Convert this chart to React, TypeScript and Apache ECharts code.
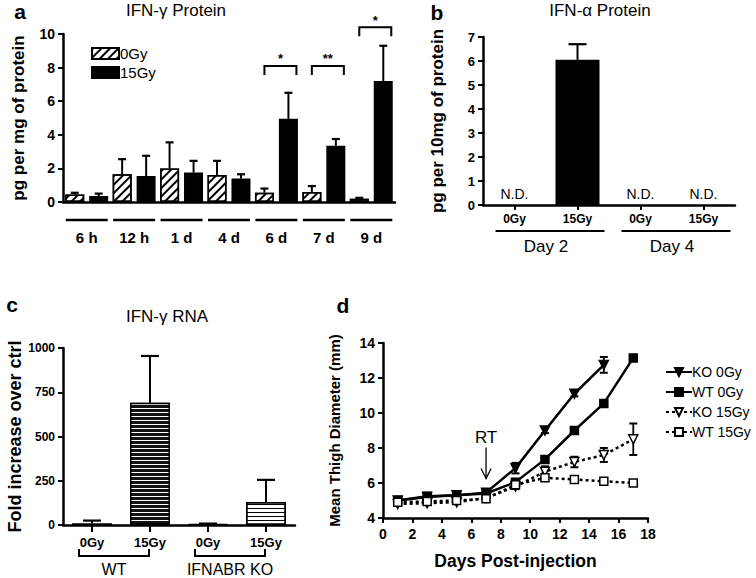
import React, { useEffect, useRef } from 'react';
import * as echarts from 'echarts';

// ---------- Panel a: IFN-γ protein ----------
const catsA = ['6 h', '12 h', '1 d', '4 d', '6 d', '7 d', '9 d'];
const a0Gy = [0.45, 1.65, 2.0, 1.6, 0.55, 0.6, 0.2];
const a0GyErrTop = [0.55, 2.55, 3.55, 2.45, 0.8, 0.95, 0.25];
const a15Gy = [0.35, 1.55, 1.75, 1.4, 4.95, 3.35, 7.2];
const a15GyErrTop = [0.5, 2.75, 2.45, 1.65, 6.5, 3.75, 9.3];
const aSigCats = [4, 5, 6];
const aSigLevels = [8.1, 8.1, 10.4];
const aSigMarks = ['*', '**', '*'];
const aLegend = ['0Gy', '15Gy'];

// ---------- Panel b: IFN-α protein ----------
const catsB = ['0Gy', '15Gy', '0Gy', '15Gy'];
const bValues: (number | string)[] = ['-', 6.05, '-', '-'];
const bErrTop: (number | string)[] = ['-', 6.7, '-', '-'];
const bNotDetected = [0, 2, 3];
const bGroupNames = ['Day 2', 'Day 4'];
const bGroupSpans = [[0, 1], [2, 3]];

// ---------- Panel c: IFN-γ RNA ----------
const catsC = ['0Gy', '15Gy', '0Gy', '15Gy'];
const cValues = [10, 690, 5, 130];
const cErrTop = [25, 955, 8, 255];
const cGroupNames = ['WT', 'IFNABR KO'];
const cGroupSpans = [[0, 1], [2, 3]];

// ---------- Panel d: thigh diameter ----------
const dDays = [1, 3, 5, 7, 9, 11, 13, 15, 17];
const dKO0 = [5.0, 5.2, 5.3, 5.45, 6.85, 9.0, 11.1, 12.75];
const dKO0Err = [0.1, 0.1, 0.1, 0.1, 0.3, 0.15, 0.15, 0.45];
const dWT0 = [5.0, 5.25, 5.3, 5.4, 6.05, 7.35, 9.0, 10.55, 13.15];
const dWT0Err = [0.1, 0.1, 0.1, 0.1, 0.15, 0.15, 0.1, 0.1, 0.15];
const dKO15 = [4.8, 4.85, 4.9, 5.15, 5.8, 6.65, 7.2, 7.6, 8.5];
const dKO15Err = [0.1, 0.1, 0.1, 0.1, 0.15, 0.3, 0.3, 0.4, 0.9];
const dWT15 = [4.9, 4.95, 5.0, 5.1, 5.9, 6.3, 6.2, 6.1, 6.0];
const dWT15Err = [0.1, 0.1, 0.1, 0.1, 0.1, 0.1, 0.1, 0.1, 0.1];
const dNames = ['KO 0Gy', 'WT 0Gy', 'KO 15Gy', 'WT 15Gy'];
const dRtDay = 7;
const dRtLevel = 5.4;
const dRtLabel = 'RT';

const FONT = '"Liberation Sans", Arial, Helvetica, sans-serif';
const BLACK = '#000';

const txt = (text: string, x: number, y: number, size: number, weight = 'normal', align = 'center') => ({
  type: 'text',
  x,
  y,
  silent: true,
  style: {
    text,
    fill: BLACK,
    fontSize: size,
    fontWeight: weight,
    fontFamily: FONT,
    align,
    verticalAlign: 'middle',
    textAlign: align,
    textVerticalAlign: 'middle',
  },
});

const lineEl = (x1: number, y1: number, x2: number, y2: number, w = 2) => ({
  type: 'line',
  shape: { x1, y1, x2, y2 },
  style: { stroke: BLACK, lineWidth: w },
});

const errRender = (offset: number, capHalf: number) => (params: any, api: any) => {
  const x = api.value(0);
  const p0 = api.coord([x, api.value(1)]);
  const p1 = api.coord([x, api.value(2)]);
  const cx = p0[0] + offset;
  return {
    type: 'group',
    children: [lineEl(cx, p0[1], cx, p1[1], 2), lineEl(cx - capHalf, p1[1], cx + capHalf, p1[1], 2.2)],
  };
};

const errRangeRender = (capHalf: number) => (params: any, api: any) => {
  const x = api.value(0);
  const lo = api.coord([x, api.value(1)]);
  const hi = api.coord([x, api.value(2)]);
  return {
    type: 'group',
    children: [
      lineEl(lo[0], lo[1], hi[0], hi[1], 1.8),
      lineEl(lo[0] - capHalf, lo[1], lo[0] + capHalf, lo[1], 2),
      lineEl(hi[0] - capHalf, hi[1], hi[0] + capHalf, hi[1], 2),
    ],
  };
};

const valueAxisCommon = {
  axisLine: { show: true, lineStyle: { color: BLACK, width: 2.5 } },
  axisTick: { show: true, inside: false, length: 5, lineStyle: { color: BLACK, width: 2 } },
  splitLine: { show: false },
};

const tickLabel = (size: number, margin: number) => ({
  color: BLACK,
  fontWeight: 'bold',
  fontSize: size,
  fontFamily: FONT,
  margin,
});

const axisName = (size: number) => ({ color: BLACK, fontWeight: 'bold', fontSize: size, fontFamily: FONT });

function buildOption(): any {
  const hatch = {
    symbol: 'rect',
    symbolSize: 1,
    dashArrayX: [[10, 0]],
    dashArrayY: [2, 4],
    rotation: -Math.PI / 4,
    color: BLACK,
    backgroundColor: '#fff',
  };
  const darkStripes = {
    symbol: 'rect',
    symbolSize: 1,
    dashArrayX: [[10, 0]],
    dashArrayY: [1, 3],
    rotation: 0,
    color: '#fff',
    backgroundColor: '#111',
  };
  const lightStripes = {
    symbol: 'rect',
    symbolSize: 1,
    dashArrayX: [[10, 0]],
    dashArrayY: [1, 3],
    rotation: 0,
    color: BLACK,
    backgroundColor: '#fff',
  };

  const dSeriesData = [dKO0, dWT0, dKO15, dWT15];
  const dErrData = [dKO0Err, dWT0Err, dKO15Err, dWT15Err];
  const dSymbols = ['triangle', 'rect', 'triangle', 'rect'];
  const dRot = [180, 0, 180, 0];
  const dFill = [BLACK, BLACK, '#fff', '#fff'];
  const dDotted = [false, false, true, true];

  const errRows: number[][] = [];
  dSeriesData.forEach((arr, s) => {
    arr.forEach((v, i) => errRows.push([dDays[i], v - dErrData[s][i], v + dErrData[s][i]]));
  });

  return {
    animation: false,
    backgroundColor: '#fff',
    textStyle: { fontFamily: FONT },
    grid: [
      { left: 63, top: 34, width: 332, height: 168 },
      { left: 483, top: 37, width: 252, height: 168 },
      { left: 63, top: 348, width: 232, height: 177 },
      { left: 383, top: 343, width: 265, height: 175 },
    ],
    legend: [
      {
        data: aLegend,
        orient: 'vertical',
        left: 86,
        top: 41,
        itemWidth: 27,
        itemHeight: 11,
        itemGap: 4,
        icon: 'rect',
        selectedMode: false,
        textStyle: { color: BLACK, fontSize: 15, fontFamily: FONT, padding: [0, 0, 0, -4] },
      },
      {
        data: dNames,
        orient: 'vertical',
        left: 660,
        top: 360,
        itemWidth: 26,
        itemHeight: 10,
        itemGap: 6,
        selectedMode: false,
        textStyle: { color: BLACK, fontSize: 14, fontFamily: FONT, padding: [0, 0, 0, -5] },
      },
    ],
    xAxis: [
      {
        type: 'category',
        gridIndex: 0,
        data: catsA,
        axisLine: { show: true, lineStyle: { color: BLACK, width: 2.5 } },
        axisTick: { show: false },
        axisLabel: tickLabel(15, 28),
      },
      {
        type: 'category',
        gridIndex: 1,
        data: catsB,
        axisLine: { show: true, lineStyle: { color: BLACK, width: 2.5 } },
        axisTick: { show: true, alignWithLabel: true, length: 5, lineStyle: { color: BLACK, width: 2 } },
        axisLabel: tickLabel(12, 8),
      },
      {
        type: 'category',
        gridIndex: 2,
        data: catsC,
        axisLine: { show: true, lineStyle: { color: BLACK, width: 2.5 } },
        axisTick: { show: true, alignWithLabel: true, length: 7, lineStyle: { color: BLACK, width: 2 } },
        axisLabel: tickLabel(13, 11),
      },
      {
        type: 'value',
        gridIndex: 3,
        min: 0,
        max: 18,
        interval: 2,
        ...valueAxisCommon,
        axisLabel: tickLabel(14, 9),
        name: 'Days Post-injection',
        nameLocation: 'middle',
        nameGap: 34,
        nameTextStyle: axisName(17.5),
      },
    ],
    yAxis: [
      {
        type: 'value',
        gridIndex: 0,
        min: 0,
        max: 10,
        interval: 2,
        ...valueAxisCommon,
        axisLabel: tickLabel(14, 8),
        name: 'pg per mg of protein',
        nameLocation: 'middle',
        nameRotate: 90,
        nameGap: 36,
        nameTextStyle: axisName(17),
      },
      {
        type: 'value',
        gridIndex: 1,
        min: 0,
        max: 7,
        interval: 1,
        ...valueAxisCommon,
        axisLabel: tickLabel(13, 8),
        name: 'pg per 10mg of protein',
        nameLocation: 'middle',
        nameRotate: 90,
        nameGap: 37,
        nameTextStyle: axisName(17),
      },
      {
        type: 'value',
        gridIndex: 2,
        min: 0,
        max: 1000,
        interval: 250,
        ...valueAxisCommon,
        axisLabel: { ...tickLabel(12, 8), formatter: (v: number) => String(v) },
        name: 'Fold increase over ctrl',
        nameLocation: 'middle',
        nameRotate: 90,
        nameGap: 39,
        nameTextStyle: axisName(18),
      },
      {
        type: 'value',
        gridIndex: 3,
        min: 4,
        max: 14,
        interval: 2,
        ...valueAxisCommon,
        axisLabel: tickLabel(14, 8),
        name: 'Mean Thigh Diameter (mm)',
        nameLocation: 'middle',
        nameRotate: 90,
        nameGap: 41,
        nameTextStyle: axisName(15),
      },
    ],
    series: [
      // ---- panel a bars
      {
        name: aLegend[0],
        type: 'bar',
        xAxisIndex: 0,
        yAxisIndex: 0,
        data: a0Gy,
        barWidth: 19,
        barGap: '26%',
        itemStyle: { color: '#fff', borderColor: BLACK, borderWidth: 1.5, decal: hatch },
      },
      {
        name: aLegend[1],
        type: 'bar',
        xAxisIndex: 0,
        yAxisIndex: 0,
        data: a15Gy,
        barWidth: 19,
        barGap: '26%',
        itemStyle: { color: BLACK, borderColor: BLACK, borderWidth: 1.5 },
      },
      {
        type: 'custom',
        xAxisIndex: 0,
        yAxisIndex: 0,
        z: 3,
        clip: false,
        data: a0Gy.map((v, i) => [i, v, a0GyErrTop[i]]),
        renderItem: errRender(-12, 4),
      },
      {
        type: 'custom',
        xAxisIndex: 0,
        yAxisIndex: 0,
        z: 3,
        clip: false,
        data: a15Gy.map((v, i) => [i, v, a15GyErrTop[i]]),
        renderItem: errRender(12, 4),
      },
      {
        type: 'custom',
        xAxisIndex: 0,
        yAxisIndex: 0,
        clip: false,
        data: catsA.map((_, i) => [i, 0]),
        renderItem: (params: any, api: any) => {
          const p = api.coord([api.value(0), 0]);
          return lineEl(p[0] - 21, p[1] + 18, p[0] + 21, p[1] + 18, 2.5);
        },
      },
      {
        type: 'custom',
        xAxisIndex: 0,
        yAxisIndex: 0,
        clip: false,
        data: aSigCats.map((c, i) => [c, aSigLevels[i]]),
        renderItem: (params: any, api: any) => {
          const p = api.coord([api.value(0), api.value(1)]);
          const x1 = p[0] - 12;
          const x2 = p[0] + 20;
          const y = p[1];
          return {
            type: 'group',
            children: [
              {
                type: 'polyline',
                shape: { points: [[x1, y + 9], [x1, y], [x2, y], [x2, y + 9]] },
                style: { stroke: BLACK, lineWidth: 2, fill: null },
              },
              txt(aSigMarks[params.dataIndex], (x1 + x2) / 2, y - 7, 13, 'bold'),
            ],
          };
        },
      },
      // ---- panel b
      {
        name: 'IFN-α',
        type: 'bar',
        xAxisIndex: 1,
        yAxisIndex: 1,
        data: bValues,
        barWidth: 44,
        itemStyle: { color: BLACK },
      },
      {
        type: 'custom',
        xAxisIndex: 1,
        yAxisIndex: 1,
        z: 3,
        clip: false,
        data: bValues
          .map((v, i) => (typeof v === 'number' ? [i, v, bErrTop[i]] : null))
          .filter((r) => r !== null),
        renderItem: errRender(0, 9),
      },
      {
        type: 'custom',
        xAxisIndex: 1,
        yAxisIndex: 1,
        clip: false,
        data: bNotDetected.map((i) => [i, 0]),
        renderItem: (params: any, api: any) => {
          const p = api.coord([api.value(0), 0]);
          return txt('N.D.', p[0], p[1] - 11, 14);
        },
      },
      {
        type: 'custom',
        xAxisIndex: 1,
        yAxisIndex: 1,
        clip: false,
        data: bGroupSpans,
        renderItem: (params: any, api: any) => {
          const pA = api.coord([api.value(0), 0]);
          const pB = api.coord([api.value(1), 0]);
          const y = pA[1] + 26;
          return {
            type: 'group',
            children: [
              lineEl(pA[0] - 19, y, pB[0] + 27, y, 2.2),
              txt(bGroupNames[params.dataIndex], (pA[0] + pB[0]) / 2, y + 15, 17),
            ],
          };
        },
      },
      // ---- panel c
      {
        name: 'IFN-γ RNA',
        type: 'bar',
        xAxisIndex: 2,
        yAxisIndex: 2,
        barWidth: 40,
        data: [
          { value: cValues[0], itemStyle: { color: BLACK, borderColor: BLACK, borderWidth: 1.5 } },
          { value: cValues[1], itemStyle: { color: '#111', borderColor: BLACK, borderWidth: 1.5, decal: darkStripes } },
          { value: cValues[2], itemStyle: { color: BLACK, borderColor: BLACK, borderWidth: 1.5 } },
          { value: cValues[3], itemStyle: { color: '#fff', borderColor: BLACK, borderWidth: 1.5, decal: lightStripes } },
        ],
      },
      {
        type: 'custom',
        xAxisIndex: 2,
        yAxisIndex: 2,
        z: 3,
        clip: false,
        data: cValues.map((v, i) => [i, v, cErrTop[i]]),
        renderItem: errRender(0, 9),
      },
      {
        type: 'custom',
        xAxisIndex: 2,
        yAxisIndex: 2,
        clip: false,
        data: cGroupSpans,
        renderItem: (params: any, api: any) => {
          const pA = api.coord([api.value(0), 0]);
          const pB = api.coord([api.value(1), 0]);
          const y = pA[1] + 31;
          const x1 = pA[0] - 13;
          const x2 = pB[0] - 1;
          return {
            type: 'group',
            children: [
              {
                type: 'polyline',
                shape: { points: [[x1, y - 7], [x1, y], [x2, y], [x2, y - 7]] },
                style: { stroke: BLACK, lineWidth: 2, fill: null },
              },
              txt(cGroupNames[params.dataIndex], (x1 + x2) / 2, y + 13, 16),
            ],
          };
        },
      },
      // ---- panel d
      ...dSeriesData.map((arr, s) => ({
        name: dNames[s],
        type: 'line',
        xAxisIndex: 3,
        yAxisIndex: 3,
        z: 4,
        data: arr.map((v, i) => [dDays[i], v]),
        symbol: dSymbols[s],
        symbolRotate: dRot[s],
        symbolSize: dSymbols[s] === 'rect' ? 8 : 9,
        showAllSymbol: true,
        itemStyle: { color: dFill[s], borderColor: BLACK, borderWidth: 1.5 },
        lineStyle: { color: BLACK, width: 2.5, type: dDotted[s] ? [3, 3] : 'solid' },
      })),
      {
        type: 'custom',
        xAxisIndex: 3,
        yAxisIndex: 3,
        z: 3,
        clip: false,
        data: errRows,
        renderItem: errRangeRender(4),
      },
      {
        type: 'custom',
        xAxisIndex: 3,
        yAxisIndex: 3,
        clip: false,
        data: [[dRtDay, dRtLevel]],
        renderItem: (params: any, api: any) => {
          const p = api.coord([api.value(0), api.value(1)]);
          const tipY = p[1] - 15;
          const topY = tipY - 31;
          return {
            type: 'group',
            children: [
              txt(dRtLabel, p[0], topY - 10, 17),
              lineEl(p[0], topY, p[0], tipY, 1.3),
              {
                type: 'polyline',
                shape: { points: [[p[0] - 5, tipY - 10], [p[0], tipY], [p[0] + 5, tipY - 10]] },
                style: { stroke: BLACK, lineWidth: 1.3, fill: null },
              },
            ],
          };
        },
      },
    ],
    graphic: [
      txt('a', 20, 11, 21, 'bold'),
      txt('IFN-γ Protein', 176, 10, 17),
      txt('b', 437, 12, 21, 'bold'),
      txt('IFN-α Protein', 600, 10, 17),
      txt('c', 12, 304, 21, 'bold'),
      txt('IFN-γ RNA', 167, 316, 17),
      txt('d', 343, 305, 21, 'bold'),
    ],
  };
}

export default function App() {
  const ref = useRef<HTMLDivElement>(null);
  useEffect(() => {
    if (!ref.current) return;
    const chart = echarts.init(ref.current, null, { renderer: 'svg' });
    chart.setOption(buildOption());
    return () => chart.dispose();
  }, []);
  return (
    <div
      ref={ref}
      style={{ position: 'fixed', left: 0, top: 0, width: 756, height: 578, background: '#fff' }}
    />
  );
}
